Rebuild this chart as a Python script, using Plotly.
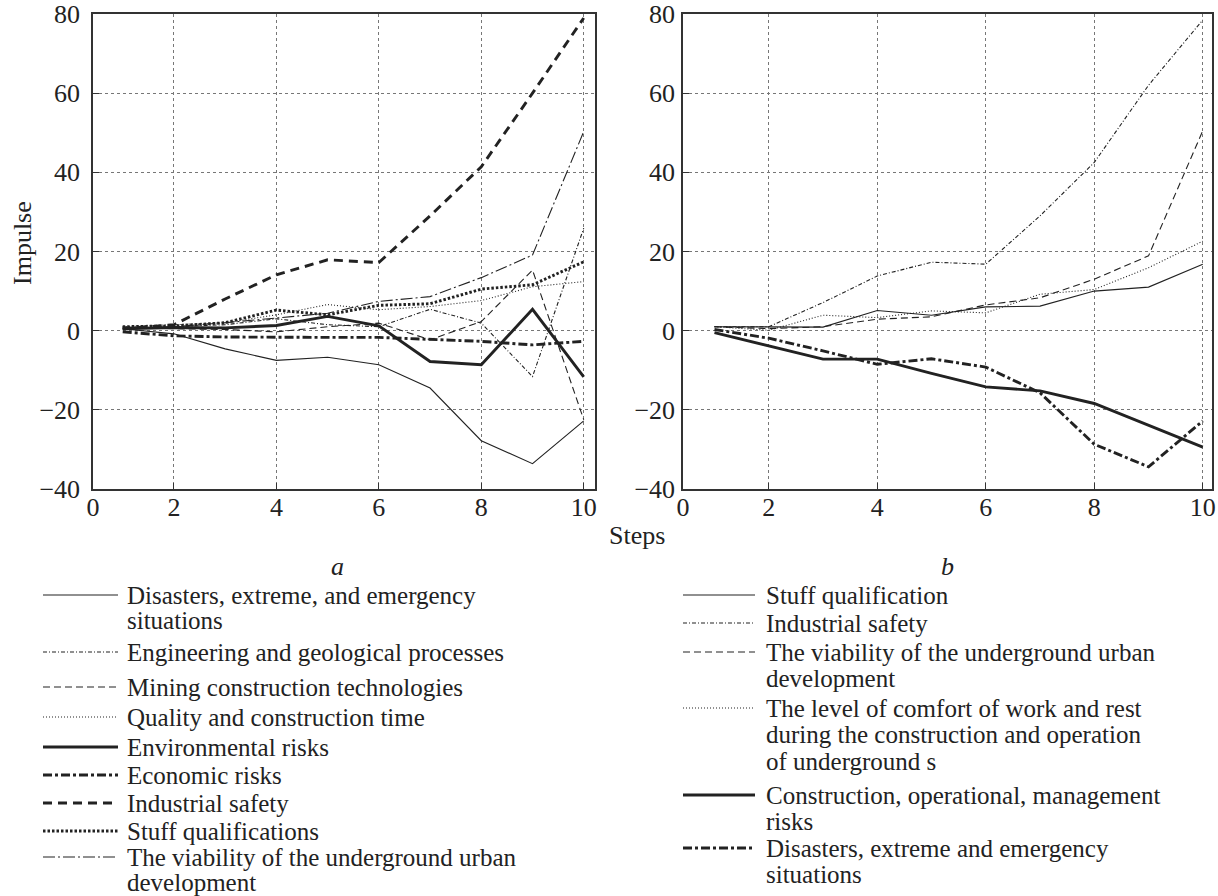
import plotly.graph_objects as go

# ---------------- data ----------------
steps = [1, 2, 3, 4, 5, 6, 7, 8, 9, 10]

# panel a
a_names = [
    "Disasters, extreme, and emergency<br>situations",
    "Engineering and geological processes",
    "Mining construction technologies",
    "Quality and construction time",
    "Environmental risks",
    "Economic risks",
    "Industrial safety",
    "Stuff qualifications",
    "The viability of the underground urban<br>development",
]
a_disasters = [0.5, -0.8, -4.6, -7.5, -6.7, -8.6, -14.5, -27.8, -33.6, -22.8]
a_engineering = [0.5, 1.0, 1.5, 3.0, 1.5, 1.0, 5.4, 1.9, -11.6, 25.9]
a_mining = [1.0, 0.5, 0.3, -0.3, 1.0, 1.9, -2.3, 2.3, 15.3, -22.5]
a_quality = [1.0, 1.5, 2.0, 4.0, 6.6, 5.3, 6.1, 7.6, 11.1, 12.4]
a_environmental = [0.5, 0.8, 0.7, 1.3, 3.6, 1.2, -7.8, -8.6, 5.4, -11.7]
a_economic = [-0.3, -1.3, -1.6, -1.7, -1.7, -1.7, -2.2, -2.7, -3.6, -2.7]
a_industrial = [0.5, 1.5, 8.0, 14.1, 17.9, 17.2, 29.0, 41.4, 60.0, 79.0]
a_stuff = [1.0, 1.2, 2.0, 5.2, 4.0, 6.4, 6.8, 10.5, 11.6, 17.4]
a_viability = [0.5, 1.0, 2.0, 3.2, 4.4, 7.4, 8.6, 13.4, 19.1, 50.3]

# panel b
b_names = [
    "Stuff qualification",
    "Industrial safety",
    "The viability of the underground urban<br>development",
    "The level of comfort of work and rest<br>during the construction and operation<br>of underground s",
    "Construction, operational, management<br>risks",
    "Disasters, extreme and emergency<br>situations",
]
b_stuff = [1.0, 1.0, 0.9, 5.1, 3.9, 6.0, 6.2, 10.0, 11.0, 16.8]
b_industrial = [1.0, 1.0, 7.1, 13.8, 17.3, 16.8, 29.0, 42.5, 62.0, 78.5]
b_viability = [1.0, 0.5, 1.0, 2.9, 3.5, 6.5, 8.3, 13.0, 18.9, 50.5]
b_comfort = [1.0, 0.1, 3.9, 3.3, 5.0, 4.5, 9.2, 10.4, 15.9, 22.6]
b_construction = [-0.5, -3.9, -7.2, -7.2, -10.8, -14.2, -15.2, -18.4, -23.9, -29.4]
b_disasters = [0.3, -1.9, -5.1, -8.5, -7.1, -9.2, -15.7, -28.7, -34.4, -22.8]

x_ticks = [0.42, 2, 4, 6, 8, 10]
x_tick_text = ["0", "2", "4", "6", "8", "10"]
y_ticks = [-40, -20, 0, 20, 40, 60, 80]
y_tick_text = ["\u221240", "\u221220", "0", "20", "40", "60", "80"]

# ---------------- styles ----------------
INK = "#222222"
FONT = "Liberation Serif"
thin, thick = 1.1, 2.9
fine_dashdot = "4px,2px,1px,2px"
dashed_thin = "7px,4px"
dotted_thin = "1px,2px"
dashdot_thick = "9px,3px,3px,3px"
dashed_thick = "9px,6px"
dotted_thick = "2.5px,2px"
long_dashdot = "12px,3px,2px,3px"

a_series = [a_disasters, a_engineering, a_mining, a_quality, a_environmental,
            a_economic, a_industrial, a_stuff, a_viability]
a_styles = [("solid", thin), (fine_dashdot, thin), (dashed_thin, thin), (dotted_thin, thin),
            ("solid", thick), (dashdot_thick, thick), (dashed_thick, thick),
            (dotted_thick, thick), (long_dashdot, thin)]
b_series = [b_stuff, b_industrial, b_viability, b_comfort, b_construction, b_disasters]
b_styles = [("solid", thin), (fine_dashdot, thin), (dashed_thin, thin), (dotted_thin, thin),
            ("solid", thick), (dashdot_thick, thick)]

W, H = 1218, 896
fig = go.Figure()

for name, ys, (dash, w) in zip(a_names, a_series, a_styles):
    fig.add_trace(go.Scatter(x=steps, y=ys, mode="lines", name=name.replace("<br>", " "),
                             line=dict(color=INK, width=w, dash=dash),
                             xaxis="x", yaxis="y", showlegend=False))
for name, ys, (dash, w) in zip(b_names, b_series, b_styles):
    fig.add_trace(go.Scatter(x=steps, y=ys, mode="lines", name=name.replace("<br>", " "),
                             line=dict(color=INK, width=w, dash=dash),
                             xaxis="x2", yaxis="y2", showlegend=False))

def px_x(p):
    return p / W

def px_y(p):
    return 1 - p / H

axis_common = dict(
    showline=True, mirror=True, linecolor="#333333", linewidth=1.5,
    showgrid=True, gridcolor="#777777", griddash="dot", gridwidth=1,
    zeroline=False, ticks="inside", ticklen=6, tickcolor="#333333",
    tickfont=dict(family=FONT, size=26, color=INK), automargin=False,
)

ydom = [px_y(489), px_y(14)]
fig.update_layout(
    template="none",
    width=W, height=H,
    margin=dict(l=0, r=0, t=0, b=0, autoexpand=False),
    paper_bgcolor="white", plot_bgcolor="white",
    font=dict(family=FONT, color=INK),
    xaxis=dict(domain=[px_x(93), px_x(595)], range=[0.42, 10.22],
               tickvals=x_ticks, ticktext=x_tick_text, anchor="y",
               ticklabelstandoff=-6, **axis_common),
    yaxis=dict(domain=ydom, range=[-40, 80], tickvals=y_ticks, ticktext=y_tick_text,
               anchor="x", ticklabelstandoff=6, **axis_common),
    xaxis2=dict(domain=[px_x(683), px_x(1212)], range=[0.42, 10.17],
                tickvals=x_ticks, ticktext=x_tick_text, anchor="y2",
                ticklabelstandoff=-6, **axis_common),
    yaxis2=dict(domain=ydom, range=[-40, 80], tickvals=y_ticks, ticktext=y_tick_text,
                anchor="x2", ticklabelstandoff=1, **axis_common),
)

annotations = []
shapes = []

def text(x, y, s, size=25, **kw):
    annotations.append(dict(x=px_x(x), y=px_y(y), xref="paper", yref="paper", text=s,
                            showarrow=False, font=dict(family=FONT, size=size, color=INK), **kw))

text(22, 243, "Impulse", size=26, textangle=-90, xanchor="center", yanchor="middle")
text(637, 535, "Steps", size=26, xanchor="center", yanchor="middle")
text(337, 566, "<i>a</i>", size=26, xanchor="center", yanchor="middle")
text(947, 566, "<i>b</i>", size=26, xanchor="center", yanchor="middle")

def legend(names, styles, x0, x1, xt, ys_lines, gap):
    for name, (dash, w), yl in zip(names, styles, ys_lines):
        shapes.append(dict(type="line", xref="paper", yref="paper",
                           x0=px_x(x0), x1=px_x(x1), y0=px_y(yl), y1=px_y(yl),
                           line=dict(color=INK, width=w, dash=dash)))
        for i, part in enumerate(name.split("<br>")):
            text(xt, yl + i * gap, part, xanchor="left", yanchor="middle")

legend(a_names, a_styles, 43, 118, 125,
       [595, 652, 687, 717, 747, 775, 803, 831, 857], 25.5)
legend(b_names, b_styles, 683, 755, 764,
       [595, 623, 652, 708, 795, 848], 26.5)

fig.update_layout(annotations=annotations, shapes=shapes)
fig.write_html(
    "out.html",
    config={"displayModeBar": False},
    post_script="document.body.style.margin='0';document.body.style.overflow='hidden';",
)
